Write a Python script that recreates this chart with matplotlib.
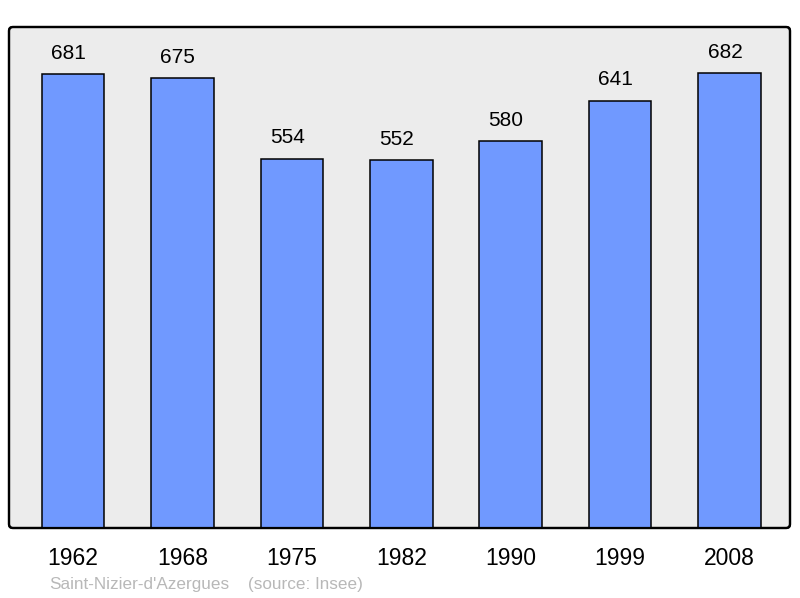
import matplotlib
matplotlib.use("Agg")
import matplotlib.pyplot as plt
from matplotlib.patches import FancyBboxPatch

years = ["1962", "1968", "1975", "1982", "1990", "1999", "2008"]
population = [681, 675, 554, 552, 580, 641, 682]
commune = "Saint-Nizier-d'Azergues"
source = "(source: Insee)"

plt.rcParams['font.family'] = ['Liberation Sans', 'DejaVu Sans']

fig = plt.figure(figsize=(8, 5.98), dpi=100)
ax = fig.add_axes([9/800, 70/598, 781/800, 501/598])
ax.patch.set_visible(False)
for s in ax.spines.values():
    s.set_visible(False)

frame = FancyBboxPatch((0, 0), 1, 1, boxstyle="round,pad=0,rounding_size=0.005",
                       mutation_aspect=781/501, transform=ax.transAxes,
                       facecolor="#ececec", edgecolor="black", linewidth=1.6,
                       zorder=0, clip_on=False)
ax.add_patch(frame)

x = list(range(len(years)))
ax.bar(x, population, width=0.572, color="#7099ff", edgecolor="black",
       linewidth=1.1, zorder=2)
for xi, v in zip(x, population):
    ax.annotate(str(v), (xi, v), xytext=(-3.3, 15), textcoords="offset points",
                ha="center", va="center", fontsize=15, color="black")

frame2 = FancyBboxPatch((0, 0), 1, 1, boxstyle="round,pad=0,rounding_size=0.005",
                        mutation_aspect=781/501, transform=ax.transAxes,
                        facecolor="none", edgecolor="black", linewidth=1.6,
                        zorder=5, clip_on=False)
ax.add_patch(frame2)

ax.set_xlim(-0.585, 6.553)
ax.set_ylim(0, 751.5)
ax.set_xticks(x)
ax.set_xticklabels(years, fontsize=16.5)
ax.tick_params(axis='x', length=0, pad=14)
ax.set_yticks([])

fig.text(49/800, 1 - 584/598, commune, fontsize=12.3, color="#b8b8b8", va="center", ha="left")
fig.text(248/800, 1 - 584/598, source, fontsize=12.3, color="#b8b8b8", va="center", ha="left")

fig.savefig("out.png", dpi=100)
